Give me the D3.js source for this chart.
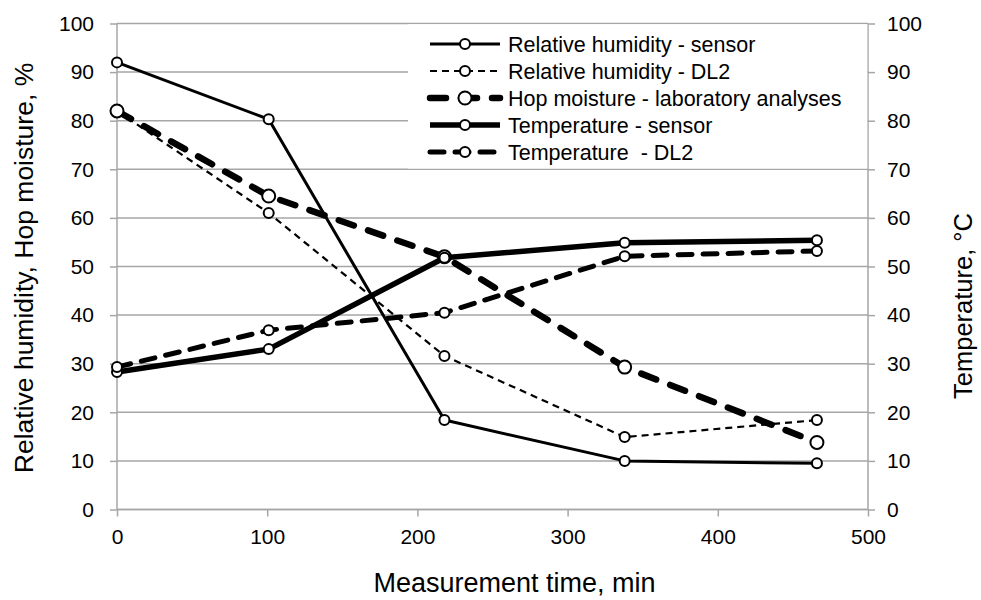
<!DOCTYPE html>
<html><head><meta charset="utf-8">
<script src="https://cdn.jsdelivr.net/npm/d3@7"></script>
<style>
body{margin:0;background:#fff;}
text{font-family:"Liberation Sans",Arial,sans-serif;fill:#000;}
</style></head>
<body><svg id="c" width="981" height="600"></svg>
<script>
const times = [0, 101, 218, 338, 466];
const rhSensor = [92, 80.3, 18.4, 10, 9.5];
const rhDL2 = [82, 61, 31.6, 14.9, 18.4];
const hopMoisture = [82, 64.5, 52, 29.3, 13.8];
const tempSensor = [28.3, 33, 51.8, 54.9, 55.4];
const tempDL2 = [29.3, 36.9, 40.5, 52.1, 53.2];
const seriesNames = ["Relative humidity - sensor","Relative humidity - DL2","Hop moisture - laboratory analyses","Temperature - sensor","Temperature  - DL2"];
const xTicks = [0,100,200,300,400,500];
const yTicks = [0,10,20,30,40,50,60,70,80,90,100];

const styles = [
  {w:3, dash:null, r:5, cap:"butt"},
  {w:2.2, dash:"7,5", r:5, cap:"butt"},
  {w:6.5, dash:"16,15", r:6.5, cap:"round"},
  {w:5.5, dash:null, r:5, cap:"butt"},
  {w:5, dash:"14,11", r:5, cap:"round"}
];
const seriesVals = [rhSensor, rhDL2, hopMoisture, tempSensor, tempDL2];

const svg = d3.select("#c");
const x = d3.scaleLinear().domain([0,500]).range([117,868]);
const yL = d3.scaleLinear().domain([0,100]).range([509.5,23.5]);
const yR = d3.scaleLinear().domain([0,100]).range([509.5,23.5]);
const grid = "#a6a6a6";

svg.append("g").selectAll("line").data(yTicks).join("line")
  .attr("x1",x(0)).attr("x2",x(500)).attr("y1",d=>yL(d)).attr("y2",d=>yL(d))
  .attr("stroke",grid).attr("stroke-width",1.5);

const gL = svg.append("g").attr("transform",`translate(${x(0)},0)`)
  .call(d3.axisLeft(yL).tickValues(yTicks).tickSize(7).tickPadding(16));
const gR = svg.append("g").attr("transform",`translate(${x(500)},0)`)
  .call(d3.axisRight(yR).tickValues(yTicks).tickSize(7).tickPadding(12));
const gB = svg.append("g").attr("transform",`translate(0,${yL(0)})`)
  .call(d3.axisBottom(x).tickValues(xTicks).tickSize(7).tickPadding(13));
[gL,gR,gB].forEach(g=>{
  g.select(".domain").attr("stroke",grid).attr("stroke-width",1.5);
  g.selectAll(".tick line").attr("stroke",grid).attr("stroke-width",1.5);
  g.selectAll(".tick text").style("font-size","21px").attr("fill","#000")
   .style("font-family","'Liberation Sans',Arial,sans-serif");
});
gB.select(".domain").attr("d",`M${x(0)},0H${x(500)}`);
gL.select(".domain").attr("d",`M0,${yL(0)}V${yL(100)}`);
gR.select(".domain").attr("d",`M0,${yR(0)}V${yR(100)}`);

const line = d3.line().x(d=>x(d[0])).y(d=>yL(d[1]));
seriesVals.forEach((vals,i)=>{
  const st = styles[i];
  const pts = times.map((t,j)=>[t,vals[j]]);
  svg.append("path").datum(pts).attr("d",line).attr("fill","none")
    .attr("stroke","#000").attr("stroke-width",st.w)
    .attr("stroke-dasharray",st.dash).attr("stroke-linecap",st.cap)
    .attr("stroke-linejoin","round");
  svg.append("g").selectAll("circle").data(pts).join("circle")
    .attr("cx",d=>x(d[0])).attr("cy",d=>yL(d[1])).attr("r",st.r)
    .attr("fill","#fff").attr("stroke","#000").attr("stroke-width",2);
});

svg.append("rect").attr("x",408).attr("y",yL(100)+0.75).attr("width",x(500)-408-0.75)
  .attr("height",yL(70)-yL(100)-1.5).attr("fill","#fff");
const lg = svg.append("g");
seriesNames.forEach((name,i)=>{
  const st = styles[i];
  const yy = 44 + i*27;
  lg.append("line").attr("x1",430).attr("x2",500).attr("y1",yy).attr("y2",yy)
    .attr("stroke","#000").attr("stroke-width",st.w)
    .attr("stroke-dasharray",st.dash).attr("stroke-linecap",st.cap);
  lg.append("circle").attr("cx",465).attr("cy",yy).attr("r",st.r)
    .attr("fill","#fff").attr("stroke","#000").attr("stroke-width",2);
  lg.append("text").attr("x",508).attr("y",yy).attr("dy","0.35em")
    .style("font-size","21.5px").text(name).style("white-space","pre");
});

svg.append("text").attr("transform",`translate(33,268) rotate(-90)`)
  .attr("text-anchor","middle").style("font-size","26.5px")
  .text("Relative humidity, Hop moisture, %");
svg.append("text").attr("transform",`translate(972,306) rotate(-90)`)
  .attr("text-anchor","middle").style("font-size","25.5px")
  .text("Temperature, °C");
svg.append("text").attr("x",(x(0)+x(500))/2+22).attr("y",592)
  .attr("text-anchor","middle").style("font-size","27px")
  .text("Measurement time, min");
</script></body></html>
